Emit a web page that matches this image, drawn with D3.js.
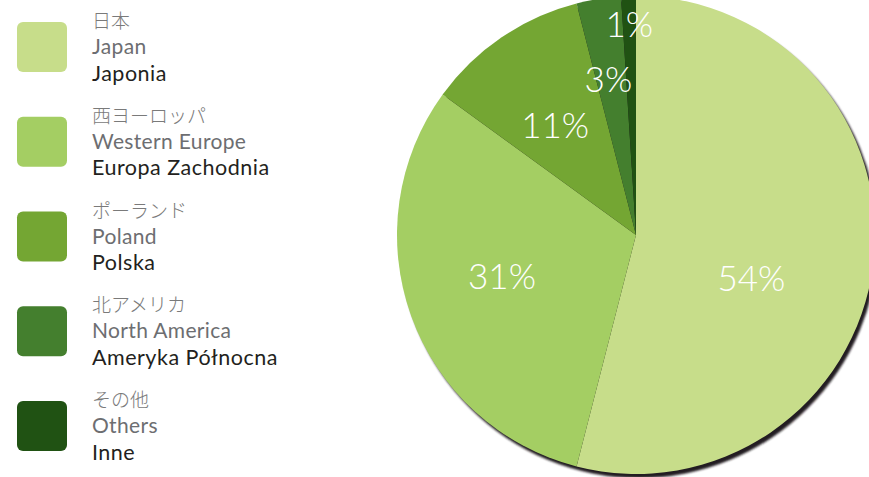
<!DOCTYPE html>
<html>
<head>
<meta charset="utf-8">
<script src="https://cdn.jsdelivr.net/npm/d3@7"></script>
<style>
html,body{margin:0;padding:0;background:#fff;}
svg{display:block;}
</style>
</head>
<body>
<svg id="chart" width="869" height="477"></svg>
<script>
// ---- data ----
const namesJa = ["日本", "西ヨーロッパ", "ポーランド", "北アメリカ", "その他"];
const namesEn = ["Japan", "Western Europe", "Poland", "North America", "Others"];
const namesPl = ["Japonia", "Europa Zachodnia", "Polska", "Ameryka Północna", "Inne"];
const shares = [54, 31, 11, 3, 1];
const colors = ["#c7dd8a", "#a4ce63", "#74a633", "#447f2e", "#205213"];

// ---- layout ----
const W = 869, H = 477;
const cx = 636, cy = 235, R = 239;
const labelRadius = [123, 140, 137, 159, 212];
const labelAngleShift = [13, 3, -2, -1, 0]; // degrees
const svg = d3.select("#chart");

// pie
const pie = d3.pie().sort(null).value(d => d.v)(shares.map((v, i) => ({v, i})));
const arc = d3.arc().innerRadius(0).outerRadius(R);

const defs = svg.append("defs");
const f = defs.append("filter").attr("id", "blur").attr("x", "-10%").attr("y", "-10%").attr("width", "120%").attr("height", "120%");
f.append("feGaussianBlur").attr("stdDeviation", 0.8);

const g = svg.append("g").attr("transform", `translate(${cx},${cy})`);
g.append("circle").attr("cx", 3).attr("cy", 4).attr("r", R).attr("fill", "#231f20").attr("filter", "url(#blur)");
g.selectAll("path.slice").data(pie).join("path")
  .attr("class", "slice")
  .attr("d", arc)
  .attr("fill", d => colors[d.data.i]);

g.selectAll("text.pct").data(pie).join("text")
  .attr("class", "pct")
  .attr("x", d => {
    const a = (d.startAngle + d.endAngle) / 2 + labelAngleShift[d.data.i] * Math.PI / 180;
    return Math.sin(a) * labelRadius[d.data.i];
  })
  .attr("y", d => {
    const a = (d.startAngle + d.endAngle) / 2 + labelAngleShift[d.data.i] * Math.PI / 180;
    return -Math.cos(a) * labelRadius[d.data.i];
  })
  .attr("text-anchor", "middle")
  .attr("dominant-baseline", "central")
  .attr("fill", "#fff")
  .style("font-family", "Lato, 'Open Sans', sans-serif")
  .style("font-weight", 300)
  .style("font-size", "35px")
  .text(d => d.data.v + "%");

// legend
const ly = d3.scalePoint().domain(d3.range(namesEn.length)).range([22, 401]);
const leg = svg.append("g").selectAll("g").data(namesEn.map((n, i) => i)).join("g")
  .attr("transform", i => `translate(0,${ly(i)})`);
leg.append("rect").attr("x", 17).attr("y", 0).attr("width", 50).attr("height", 50)
  .attr("rx", 6).attr("fill", i => colors[i]);
leg.append("text").attr("x", 92).attr("y", 6)
  .attr("fill", "#7a7a7a")
  .style("font-family", "'Noto Sans CJK JP', sans-serif")
  .style("font-weight", 300)
  .style("font-size", "19px")
  .text(i => namesJa[i]);
leg.append("text").attr("x", 92).attr("y", 32)
  .attr("fill", "#6d6e71")
  .style("font-family", "Lato, sans-serif")
  .style("font-size", "21px")
  .style("letter-spacing", "0.35px")
  .text(i => namesEn[i]);
leg.append("text").attr("x", 92).attr("y", 58.5)
  .attr("fill", "#231f20")
  .style("font-family", "Lato, sans-serif")
  .style("font-size", "21.5px")
  .style("letter-spacing", "0.5px")
  .text(i => namesPl[i]);
</script>
</body>
</html>
